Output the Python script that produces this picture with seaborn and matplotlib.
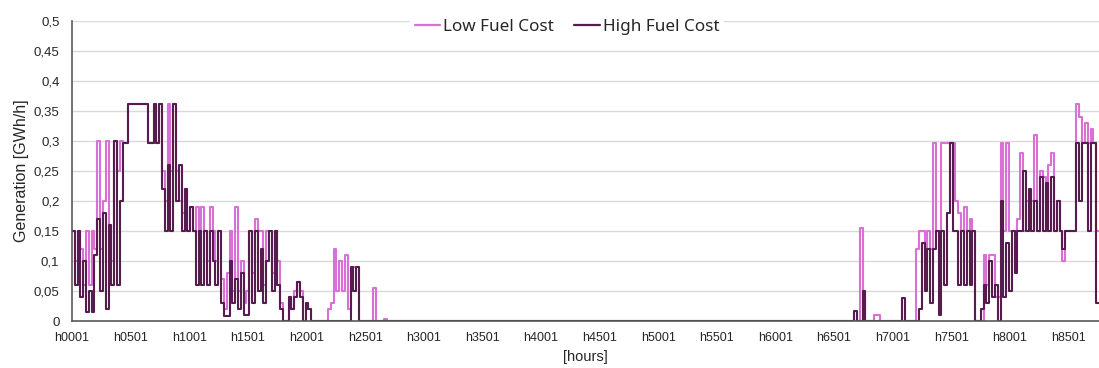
import numpy as np
import pandas as pd
import matplotlib
matplotlib.use("Agg")
import matplotlib.pyplot as plt
import seaborn as sns
from matplotlib.ticker import FuncFormatter

# ---- data: daily values (GWh/h) ----
# days 0-112
low_seg1 = [0.15, 0.10, 0.15, 0.12, 0.06, 0.15, 0.06, 0.15, 0.12, 0.30,
            0.12, 0.20, 0.30, 0.16, 0.10, 0.30, 0.25, 0.30, 0.297, 0.297,
            0.362, 0.362, 0.362, 0.362, 0.362, 0.362, 0.362, 0.297, 0.297, 0.362,
            0.297, 0.362, 0.25, 0.20, 0.362, 0.25, 0.362, 0.25, 0.20, 0.18,
            0.22, 0.15, 0.19, 0.15, 0.19, 0.15, 0.19, 0.15, 0.10, 0.19,
            0.15, 0.10, 0.15, 0.07, 0.02, 0.08, 0.15, 0.05, 0.19, 0.05,
            0.10, 0.03, 0.05, 0.15, 0.08, 0.17, 0.15, 0.15, 0.06, 0.15,
            0.15, 0.08, 0.15, 0.10, 0.03, 0.0, 0.0, 0.04, 0.02, 0.05,
            0.065, 0.05, 0.0, 0.03, 0.02, 0.0, 0.0, 0.0, 0.0, 0.0,
            0.0, 0.02, 0.03, 0.12, 0.05, 0.10, 0.05, 0.11, 0.02, 0.07,
            0.09, 0.09, 0.0, 0.0, 0.0, 0.0, 0.0, 0.055, 0.0, 0.0,
            0.0, 0.003, 0.0]
high_seg1 = [0.15, 0.06, 0.15, 0.04, 0.10, 0.015, 0.05, 0.015, 0.11, 0.17,
             0.05, 0.18, 0.02, 0.16, 0.06, 0.30, 0.06, 0.20, 0.297, 0.297,
             0.362, 0.362, 0.362, 0.362, 0.362, 0.362, 0.362, 0.297, 0.297, 0.362,
             0.297, 0.362, 0.22, 0.15, 0.26, 0.15, 0.362, 0.20, 0.26, 0.15,
             0.22, 0.15, 0.19, 0.15, 0.06, 0.15, 0.06, 0.15, 0.06, 0.15,
             0.10, 0.06, 0.15, 0.03, 0.008, 0.008, 0.10, 0.03, 0.07, 0.02,
             0.08, 0.01, 0.01, 0.15, 0.03, 0.15, 0.05, 0.12, 0.03, 0.10,
             0.15, 0.05, 0.15, 0.06, 0.02, 0.0, 0.0, 0.04, 0.02, 0.04,
             0.065, 0.04, 0.0, 0.03, 0.02, 0.0, 0.0, 0.0, 0.0, 0.0,
             0.0, 0.0, 0.0, 0.0, 0.0, 0.0, 0.0, 0.0, 0.0, 0.09,
             0.05, 0.09, 0.0, 0.0, 0.0, 0.0, 0.0, 0.0, 0.0, 0.0,
             0.0, 0.0, 0.0]
# days 113-271: no generation
gap_days = 159
# days 272-364
low_seg2 = [0.0, 0.0, 0.0, 0.0, 0.0, 0.0, 0.0, 0.0, 0.155, 0.05,
            0.0, 0.0, 0.0, 0.01, 0.01, 0.0, 0.0, 0.0, 0.0, 0.0,
            0.0, 0.0, 0.0, 0.0, 0.0, 0.0, 0.0, 0.0, 0.12, 0.15,
            0.15, 0.10, 0.15, 0.12, 0.297, 0.15, 0.15, 0.297, 0.297, 0.297,
            0.297, 0.297, 0.20, 0.18, 0.15, 0.19, 0.15, 0.17, 0.15, 0.0,
            0.0, 0.0, 0.11, 0.06, 0.11, 0.11, 0.04, 0.04, 0.297, 0.15,
            0.297, 0.15, 0.15, 0.15, 0.17, 0.28, 0.15, 0.20, 0.15, 0.20,
            0.31, 0.15, 0.25, 0.24, 0.15, 0.26, 0.28, 0.15, 0.20, 0.15,
            0.10, 0.15, 0.15, 0.15, 0.15, 0.362, 0.34, 0.297, 0.33, 0.297,
            0.32, 0.297, 0.15]
high_seg2 = [0.0, 0.0, 0.0, 0.0, 0.0, 0.0, 0.017, 0.0, 0.0, 0.05,
             0.0, 0.0, 0.0, 0.0, 0.0, 0.0, 0.0, 0.0, 0.0, 0.0,
             0.0, 0.0, 0.0, 0.038, 0.0, 0.0, 0.0, 0.0, 0.0, 0.02,
             0.13, 0.05, 0.12, 0.03, 0.12, 0.15, 0.01, 0.15, 0.06, 0.18,
             0.297, 0.15, 0.15, 0.06, 0.15, 0.06, 0.15, 0.06, 0.15, 0.0,
             0.0, 0.02, 0.06, 0.03, 0.10, 0.04, 0.06, 0.0, 0.20, 0.04,
             0.13, 0.05, 0.15, 0.08, 0.15, 0.15, 0.25, 0.15, 0.22, 0.15,
             0.20, 0.15, 0.24, 0.15, 0.23, 0.15, 0.24, 0.15, 0.20, 0.15,
             0.12, 0.15, 0.15, 0.15, 0.15, 0.297, 0.20, 0.297, 0.297, 0.15,
             0.297, 0.297, 0.03]

series_names = ["Low Fuel Cost", "High Fuel Cost"]
series_colors = ["#DA70D6", "#561C4E"]
tick_hours = [1, 501, 1001, 1501, 2001, 2501, 3001, 3501, 4001, 4501,
              5001, 5501, 6001, 6501, 7001, 7501, 8001, 8501]
tick_labels = ["h0001", "h0501", "h1001", "h1501", "h2001", "h2501", "h3001",
               "h3501", "h4001", "h4501", "h5001", "h5501", "h6001", "h6501",
               "h7001", "h7501", "h8001", "h8501"]
y_ticks = [0, 0.05, 0.1, 0.15, 0.2, 0.25, 0.3, 0.35, 0.4, 0.45, 0.5]
x_title = "[hours]"
y_title = "Generation [GWh/h]"

# ---- assemble ----
low_all = np.concatenate([low_seg1, np.zeros(gap_days), low_seg2])
high_all = np.concatenate([high_seg1, np.zeros(gap_days), high_seg2])
n_days = len(low_all)
hours = np.arange(n_days) * 24 + 1
hours = np.append(hours, n_days * 24 + 1)
low_all = np.append(low_all, low_all[-1])
high_all = np.append(high_all, high_all[-1])

df = pd.concat([
    pd.DataFrame({"hour": hours, "value": low_all, "series": series_names[0]}),
    pd.DataFrame({"hour": hours, "value": high_all, "series": series_names[1]}),
], ignore_index=True)

sns.set_style("white")
plt.rcParams["font.family"] = ["Liberation Sans", "DejaVu Sans"]

fig = plt.figure(figsize=(10.99, 3.68), dpi=100)
ax = fig.add_axes([0.0655, 0.1277, 0.9345, 0.8152])

sns.lineplot(data=df, x="hour", y="value", hue="series", hue_order=series_names,
             palette=dict(zip(series_names, series_colors)), estimator=None,
             drawstyle="steps-post", linewidth=1.5, ax=ax)

ax.set_xlim(1, 8761)
ax.set_ylim(0, 0.5)
ax.set_xticks(tick_hours)
ax.set_xticklabels(tick_labels)
ax.set_yticks(y_ticks)
ax.yaxis.set_major_formatter(FuncFormatter(lambda v, p: ("%g" % v).replace(".", ",")))

ax.yaxis.grid(True, color="#D9D9D9", linewidth=1.0)
ax.xaxis.grid(False)
ax.set_axisbelow(True)

for s in ["top", "right"]:
    ax.spines[s].set_visible(False)
for s in ["left", "bottom"]:
    ax.spines[s].set_color("#595959")
    ax.spines[s].set_linewidth(1.2)

ax.tick_params(axis="x", direction="inout", length=6, width=1, color="#595959",
               labelsize=9, labelcolor="#262626", pad=5)
ax.tick_params(axis="y", length=0, labelsize=9.5, labelcolor="#262626", pad=9)

ax.set_xlabel(x_title, fontsize=10.5, color="#262626")
ax.set_ylabel(y_title, fontsize=11.5, color="#262626")
ax.xaxis.set_label_coords(0.4995, -0.097)
ax.yaxis.set_label_coords(-0.042, 0.5)

handles, labels = ax.get_legend_handles_labels()
leg = ax.legend(handles, labels, loc="center", bbox_to_anchor=(0.482, 0.98),
                ncol=2, frameon=True, facecolor="white", edgecolor="none",
                framealpha=1, handlelength=1.5, handletextpad=0.15,
                columnspacing=1.2, borderpad=0.3, borderaxespad=0,
                prop={"family": ["Noto Sans", "DejaVu Sans"], "size": 12.3})
for h in leg.get_lines():
    h.set_linewidth(1.6)
leg.set_zorder(5)

fig.savefig("out.png", dpi=100)
